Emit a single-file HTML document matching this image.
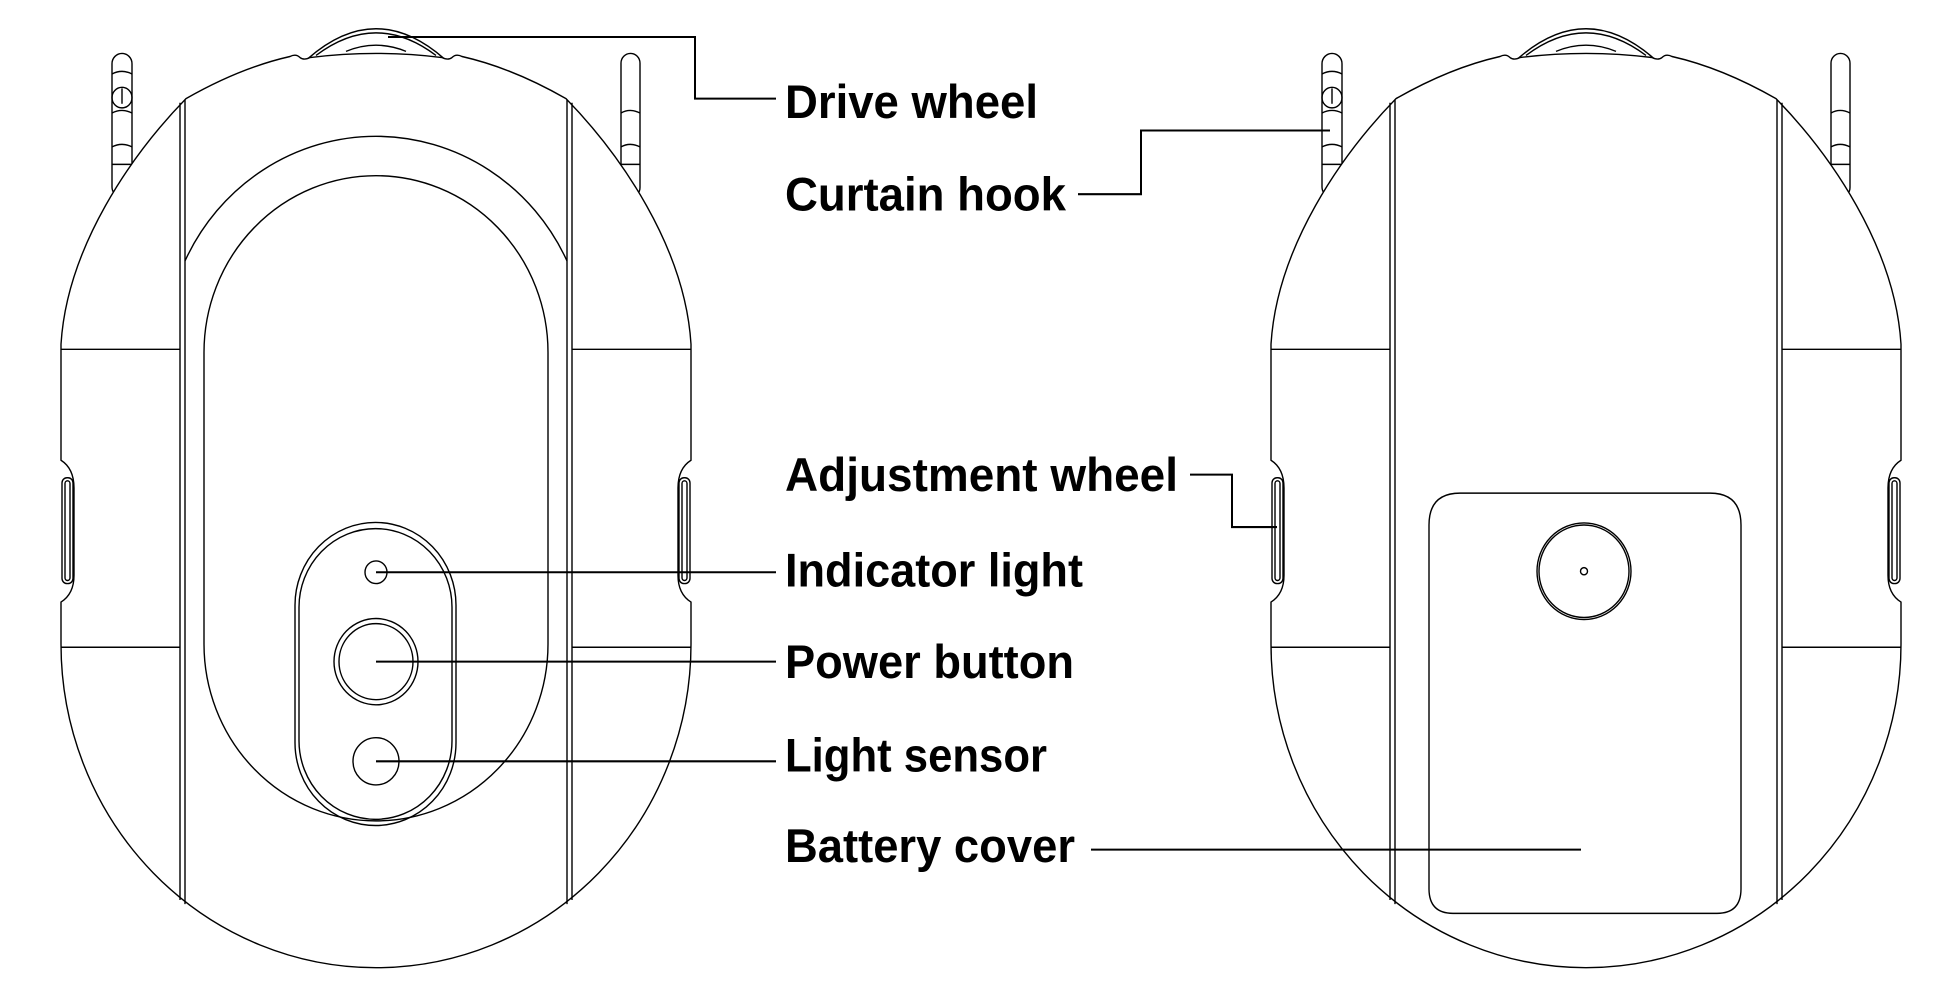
<!DOCTYPE html>
<html><head><meta charset="utf-8"><style>
html,body{margin:0;padding:0;background:#fff;}
svg{display:block}
text{font-family:"Liberation Sans",sans-serif;font-weight:bold;font-size:46px;fill:#000}
</style></head><body>
<svg width="1946" height="999" viewBox="0 0 1946 999" xmlns="http://www.w3.org/2000/svg">
<defs>
<g id="body" fill="none" stroke="#000" stroke-width="1.4">
  <!-- drive wheel -->
  <path d="M308 57 Q376 -1 444 57"/>
  <path d="M316 54 Q376 10 436 54"/>
  <path d="M346 50 Q376 38 406 50"/>
  <!-- hooks -->
  <rect x="112" y="52" width="20" height="140" rx="10"/>
  <path d="M112 72 Q122 67 132 72 M112 110 Q122 105 132 110 M112 143 Q122 138 132 143 M112 160 L132 160"/>
  <circle cx="122" cy="95" r="10"/>
  <line x1="122" y1="86" x2="122" y2="101"/>
  <rect x="621" y="52" width="19" height="140" rx="9.5"/>
  <path d="M621 110 Q630 105 640 110 M621 143 Q630 138 640 143 M621 160 L640 160"/>
  <!-- outline -->
  <path fill="#fff" d="M186 96 Q240 66 290 55 Q296 52 300 56 Q304 59 310 56 Q376 48 442 56 Q448 59 452 56 Q456 52 462 55 Q512 66 566 96 C620 150 685 240 691 335 L691 448 Q678 456 678 475 L678 560 Q678 578 691 586 L691 627 A315 315 0 0 1 61 627 L61 586 Q74 578 74 560 L74 475 Q74 456 61 448 L61 335 C67 240 132 150 186 96 Z"/>
  <!-- strips -->
  <line x1="180" y1="100" x2="180" y2="876"/>
  <line x1="185" y1="97" x2="185" y2="880"/>
  <line x1="567" y1="97" x2="567" y2="880"/>
  <line x1="572" y1="100" x2="572" y2="876"/>
  <!-- horizontal seams -->
  <line x1="61" y1="340" x2="180" y2="340"/>
  <line x1="572" y1="340" x2="691" y2="340"/>
  <line x1="61" y1="630" x2="180" y2="630"/>
  <line x1="572" y1="630" x2="691" y2="630"/>
  <!-- adjustment wheels -->
  <rect x="62" y="465" width="11" height="103" rx="5"/>
  <rect x="65" y="468" width="5" height="97" rx="2.5"/>
  <rect x="679" y="465" width="11" height="103" rx="5"/>
  <rect x="682" y="468" width="5" height="97" rx="2.5"/>
</g>
</defs>

<g transform="scale(1 1.0274)">
<!-- LEFT VIEW -->
<use href="#body"/>
<g fill="none" stroke="#000" stroke-width="1.4">
  <path d="M185 254 A211 211 0 0 1 567 254"/>
  <path d="M204 343 A172 172 0 0 1 548 343 L548 627 A172 172 0 0 1 204 627 Z"/>
  <path d="M295 589 A80.5 80.5 0 0 1 456 589 L456 723 A80.5 80.5 0 0 1 295 723 Z"/>
  <path d="M299 591 A76.5 76.5 0 0 1 452 591 L452 721 A76.5 76.5 0 0 1 299 721 Z"/>
  <circle cx="376" cy="557" r="11"/>
  <circle cx="376" cy="644" r="42"/>
  <circle cx="376" cy="644" r="37"/>
  <circle cx="376" cy="741" r="23"/>
</g>

<!-- RIGHT VIEW -->
<use href="#body" transform="translate(1210 0)"/>
<g fill="none" stroke="#000" stroke-width="1.4">
  <path d="M1460 480 L1710 480 Q1741 480 1741 511 L1741 865 Q1741 889 1717 889 L1453 889 Q1429 889 1429 865 L1429 511 Q1429 480 1460 480 Z"/>
  <circle cx="1584" cy="556" r="47"/>
  <circle cx="1584" cy="556" r="45"/>
  <circle cx="1584" cy="556" r="3.5"/>
</g>

<!-- leaders -->
<g fill="none" stroke="#000" stroke-width="2">
  <polyline points="388,36 695,36 695,96 776,96"/>
  <polyline points="1078,189 1141,189 1141,127 1330,127"/>
  <polyline points="1190,462 1232,462 1232,513 1277,513"/>
  <line x1="376" y1="557" x2="776" y2="557"/>
  <line x1="376" y1="644" x2="776" y2="644"/>
  <line x1="376" y1="741" x2="776" y2="741"/>
  <line x1="1091" y1="827" x2="1581" y2="827"/>
</g>

<text x="785" y="115" textLength="253" lengthAdjust="spacingAndGlyphs">Drive wheel</text>
<text x="785" y="205" textLength="281" lengthAdjust="spacingAndGlyphs">Curtain hook</text>
<text x="785" y="478" textLength="393" lengthAdjust="spacingAndGlyphs">Adjustment wheel</text>
<text x="785" y="571" textLength="298" lengthAdjust="spacingAndGlyphs">Indicator light</text>
<text x="785" y="660" textLength="289" lengthAdjust="spacingAndGlyphs">Power button</text>
<text x="785" y="751" textLength="262" lengthAdjust="spacingAndGlyphs">Light sensor</text>
<text x="785" y="839" textLength="290" lengthAdjust="spacingAndGlyphs">Battery cover</text>
</g>
</svg>
</body></html>
